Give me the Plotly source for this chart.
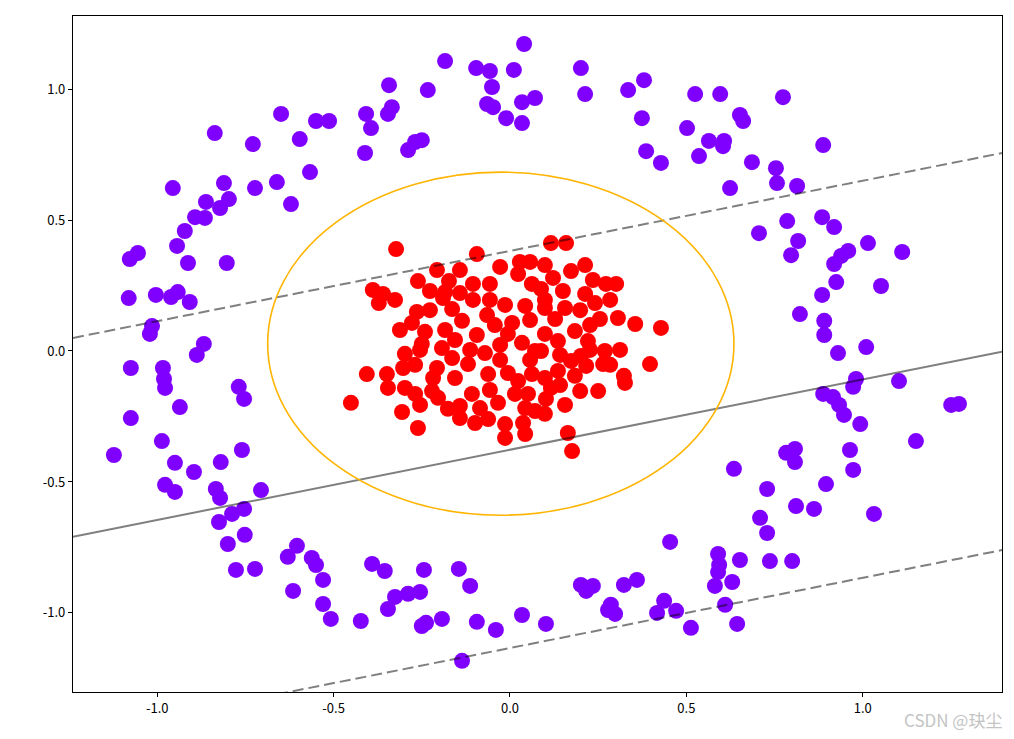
import numpy as np
import plotly.graph_objects as go

# ---- data ----
purple_x = [
    -0.649, -0.837, -0.729, -0.596, -0.567, -0.956, -0.811, -0.723, -0.661, -0.621,
    -0.862, -0.797, -0.822, -0.893, -0.865, -0.922, -0.944, 0.040, -0.184, -0.096,
    -0.057, 0.011, -0.051, -0.343, -0.233, -0.335, -0.346, -0.408, -0.394, -0.550,
    -0.513, -0.411, -0.289, -0.269, -0.250, -0.065, -0.048, -0.011, 0.034, 0.034,
    0.071, 0.201, 0.213, 0.335, 0.380, 0.374, 0.386, 0.428, 0.525, 0.596,
    0.652, 0.661, 0.502, 0.564, 0.607, 0.604, 0.536, 0.686, 0.624, 0.754,
    0.757, 0.706, 0.774, 0.888, 0.814, 0.786, 0.885, 0.919, 0.817, 1.015,
    0.797, 0.959, 0.939, 0.919, 1.112, 0.925, 0.885, 1.052, 0.822, 0.891,
    0.891, 0.930, 1.010, 0.981, 0.973, 1.103, 0.888, 0.916, 0.933, 0.947,
    0.993, 1.251, 1.273, 1.151, 0.964, 0.783, 0.808, 0.808, 0.973, 0.896,
    0.729, 0.811, 0.862, 1.032, 0.729, 0.737, 0.800, 0.635, 0.709, 0.454,
    0.590, 0.593, 0.590, 0.652, 0.581, 0.630, 0.201, 0.235, 0.216, 0.323,
    0.360, 0.286, 0.278, 0.298, 0.437, 0.417, 0.471, 0.513, 0.610, 0.644,
    0.102, -0.562, -0.550, -0.530, -0.530, -0.508, -0.423, -0.391, -0.355, -0.244,
    -0.145, -0.113, -0.326, -0.289, -0.255, -0.346, -0.250, -0.238, -0.193, -0.094,
    -0.040, 0.034, -0.136, -0.950, -0.820, -0.896, -0.978, -0.950, -0.834, -0.822,
    -0.706, -0.754, -0.788, -0.825, -0.752, -0.800, -0.777, -0.723, -0.604, -0.630,
    -0.615, -1.055, -1.078, -0.913, -0.803, -1.081, -1.004, -0.961, -0.942, -0.908,
    -1.015, -1.021, -0.868, -0.888, -1.075, -0.984, -0.981, -0.978, -0.769, -0.754,
    -0.936, -1.075, -0.987, -1.123, -0.760,
]
purple_y = [
    0.905, 0.832, 0.790, 0.809, 0.683, 0.622, 0.641, 0.622, 0.645, 0.561,
    0.569, 0.580, 0.546, 0.511, 0.508, 0.458, 0.401, 1.172, 1.107, 1.080,
    1.069, 1.073, 1.008, 1.015, 0.996, 0.931, 0.905, 0.905, 0.851, 0.878,
    0.878, 0.756, 0.767, 0.798, 0.805, 0.943, 0.931, 0.889, 0.870, 0.950,
    0.966, 1.080, 0.981, 0.996, 1.034, 0.889, 0.763, 0.718, 0.981, 0.981,
    0.901, 0.878, 0.851, 0.802, 0.802, 0.782, 0.744, 0.721, 0.622, 0.698,
    0.641, 0.450, 0.969, 0.786, 0.630, 0.496, 0.511, 0.473, 0.420, 0.412,
    0.366, 0.382, 0.363, 0.332, 0.378, 0.263, 0.214, 0.248, 0.141, 0.115,
    0.061, -0.008, 0.015, -0.107, -0.137, -0.115, -0.164, -0.176, -0.206, -0.244,
    -0.279, -0.206, -0.202, -0.344, -0.378, -0.389, -0.374, -0.424, -0.454, -0.508,
    -0.527, -0.592, -0.603, -0.622, -0.695, -0.802, -0.802, -0.450, -0.637, -0.729,
    -0.775, -0.817, -0.844, -0.798, -0.897, -0.882, -0.893, -0.897, -0.916, -0.893,
    -0.874, -0.969, -0.989, -1.004, -0.954, -1.000, -0.992, -1.057, -0.969, -1.042,
    -1.042, -0.790, -0.817, -0.874, -0.966, -1.023, -1.031, -0.813, -0.840, -0.836,
    -0.832, -0.897, -0.939, -0.927, -0.920, -0.985, -1.050, -1.038, -1.023, -1.034,
    -1.065, -1.008, -1.183, -0.427, -0.424, -0.462, -0.511, -0.538, -0.527, -0.561,
    -0.531, -0.603, -0.622, -0.653, -0.702, -0.737, -0.836, -0.832, -0.744, -0.786,
    -0.916, 0.374, 0.351, 0.336, 0.336, 0.202, 0.214, 0.206, 0.225, 0.187,
    0.095, 0.065, 0.027, -0.015, -0.065, -0.065, -0.107, -0.141, -0.137, -0.183,
    -0.214, -0.256, -0.344, -0.397, -0.378,
]
red_x = [
    -0.323, -0.094, 0.028, -0.028, 0.023, -0.207, -0.261, -0.389, -0.360, -0.372,
    -0.227, -0.173, -0.190, -0.142, -0.105, -0.057, -0.105, -0.164, -0.264, -0.278,
    -0.241, -0.184, -0.136, -0.094, -0.065, -0.014, 0.006, 0.062, 0.043, -0.006,
    0.034, 0.071, -0.250, -0.298, -0.193, -0.164, -0.207, -0.218, -0.303, -0.119,
    -0.071, -0.062, -0.406, -0.349, -0.346, -0.298, -0.269, -0.221, -0.204, -0.006,
    0.023, 0.062, 0.014, 0.051, -0.451, -0.306, -0.176, -0.142, -0.108, -0.085,
    -0.034, -0.099, -0.014, -0.014, 0.037, 0.043, -0.261, 0.071, 0.116, 0.159,
    0.173, 0.122, 0.235, 0.272, 0.301, 0.088, 0.150, 0.213, 0.241, 0.099,
    0.156, 0.128, 0.255, 0.306, 0.355, 0.428, 0.184, 0.099, 0.136, 0.221,
    0.269, 0.088, 0.201, 0.173, 0.216, 0.264, 0.397, 0.136, 0.099, 0.184,
    0.323, 0.326, 0.199, 0.250, 0.116, 0.102, 0.099, 0.164, 0.176,
    -0.142, 0.099, 0.213, -0.227, -0.057, 0.099, 0.199, 0.284, -0.312, -0.043,
    0.057, 0.227, -0.156, -0.028, 0.142, 0.312, -0.269, -0.156, -0.028, 0.057,
    0.284, -0.255, -0.057, 0.043, 0.156, -0.142, -0.062, -0.326, -0.113, 0.142,
    -0.184, 0.057, 0.227, -0.255,
]
red_y = [
    0.389, 0.370, 0.340, 0.321, 0.294, 0.309, 0.267, 0.233, 0.218, 0.183,
    0.229, 0.267, 0.202, 0.221, 0.256, 0.256, 0.195, 0.160, 0.149, 0.107,
    0.073, 0.080, 0.115, 0.061, 0.137, 0.176, 0.107, 0.256, 0.172, 0.065,
    0.031, 0.000, 0.027, -0.011, 0.011, -0.027, -0.065, -0.103, -0.065, -0.050,
    -0.008, -0.088, -0.088, -0.088, -0.141, -0.141, -0.164, -0.153, -0.179, -0.084,
    -0.115, -0.088, -0.164, -0.164, -0.198, -0.233, -0.221, -0.210, -0.164, -0.218,
    -0.198, -0.275, -0.279, -0.332, -0.275, -0.317, -0.294, -0.229, 0.412, 0.412,
    0.305, 0.279, 0.271, 0.256, 0.256, 0.237, 0.229, 0.218, 0.183, 0.164,
    0.164, 0.122, 0.122, 0.126, 0.103, 0.088, 0.076, 0.065, 0.038, 0.038,
    0.000, 0.000, -0.019, -0.038, -0.057, -0.050, -0.050, -0.076, -0.103, -0.095,
    -0.095, -0.122, -0.153, -0.153, -0.141, -0.183, -0.240, -0.313, -0.382,
    0.309, 0.328, 0.328, 0.156, 0.195, 0.195, 0.156, 0.195, 0.080, 0.099,
    0.118, 0.099, 0.042, 0.023, -0.015, 0.004, -0.053, -0.103, -0.034, -0.034,
    -0.053, -0.206, -0.149, -0.218, -0.206, -0.256, -0.260, 0.195, 0.004, -0.130,
    0.225, 0.340, 0.004, 0.004,
]

# decision boundary (slope, intercepts for margin -1, 0, +1)
boundary_slope = 0.268
boundary_intercepts = [-1.134, -0.377, 0.382]
boundary_dash = ["dash", "solid", "dash"]

# circle (data units)
circle_center = (-0.026, 0.028)
circle_radius = (0.661, 0.655)

x_range = [-1.239, 1.395]
y_range = [-1.302, 1.279]
tick_vals = [-1.0, -0.5, 0.0, 0.5, 1.0]
tick_text = ["-1.0", "-0.5", "0.0", "0.5", "1.0"]

fig = go.Figure()
fig.add_trace(go.Scatter(x=purple_x, y=purple_y, mode="markers",
                         marker=dict(color="#8000FF", size=16, line=dict(width=0)),
                         showlegend=False, hoverinfo="skip"))
fig.add_trace(go.Scatter(x=red_x, y=red_y, mode="markers",
                         marker=dict(color="#FF0000", size=16, line=dict(width=0)),
                         showlegend=False, hoverinfo="skip"))

xs = np.array(x_range)
for b, d in zip(boundary_intercepts, boundary_dash):
    fig.add_trace(go.Scatter(x=xs, y=boundary_slope * xs + b, mode="lines",
                             line=dict(color="rgba(0,0,0,0.5)", width=2,
                                       dash="11px,5px" if d == "dash" else "solid"),
                             showlegend=False, hoverinfo="skip"))

fig.add_shape(type="circle", xref="x", yref="y",
              x0=circle_center[0] - circle_radius[0], x1=circle_center[0] + circle_radius[0],
              y0=circle_center[1] - circle_radius[1], y1=circle_center[1] + circle_radius[1],
              line=dict(color="#FFB400", width=1.6), layer="above")

axis_common = dict(showgrid=False, zeroline=False, showline=True, linecolor="black",
                   linewidth=1.2, mirror=True, ticks="outside", ticklen=4,
                   tickcolor="black", tickwidth=1,
                   tickfont=dict(family="Noto Sans CJK SC", size=13, color="black"))
fig.update_xaxes(range=x_range, tickvals=tick_vals, ticktext=tick_text, **axis_common)
fig.update_yaxes(range=y_range, tickvals=tick_vals, ticktext=tick_text, **axis_common)

fig.add_annotation(text="CSDN @玦尘", xref="paper", yref="paper", x=1.002, y=-0.041,
                   xanchor="right", yanchor="middle", showarrow=False,
                   font=dict(family="Noto Sans CJK SC", size=17, color="#c4c4c4"))

# the page body adds an 8px offset, so margins are reduced accordingly
fig.update_layout(width=1014, height=739, plot_bgcolor="white", paper_bgcolor="white",
                  margin=dict(l=65, r=20, t=8, b=55))
fig.write_html("out.html")
